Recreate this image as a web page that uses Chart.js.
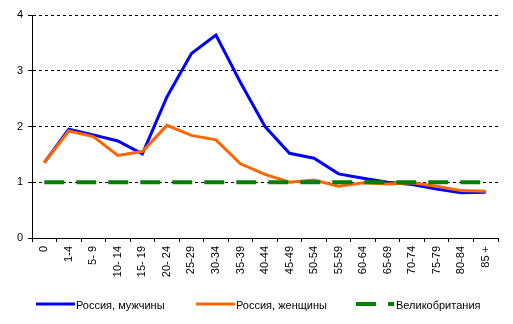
<!DOCTYPE html>
<html><head><meta charset="utf-8">
<script src="https://cdn.jsdelivr.net/npm/chart.js@4"></script>
<style>html,body{margin:0;padding:0;background:#fff}#w{width:513px;height:324px}</style>
</head><body><div id="w"><canvas id="c" width="513" height="324"></canvas></div>
<script>
const categories = ["0","1-4","5- 9","10- 14","15- 19","20- 24","25-29","30-34","35-39","40-44","45-49","50-54","55-59","60-64","65-69","70-74","75-79","80-84","85 +"];
const russiaMen = [1.35,1.95,1.85,1.74,1.51,2.53,3.31,3.64,2.79,2.0,1.52,1.43,1.15,1.07,1.0,0.96,0.88,0.81,0.82];
const russiaWomen = [1.35,1.92,1.82,1.48,1.55,2.02,1.84,1.76,1.33,1.14,1.0,1.04,0.93,0.99,0.97,0.99,0.93,0.85,0.84];
const britain = [1,1,1,1,1,1,1,1,1,1,1,1,1,1,1,1,1,1,1];
const seriesNames = ["Россия, мужчины","Россия, женщины","Великобритания"];
const yTicks = [0,1,2,3,4];

Chart.defaults.font.family = "'Liberation Sans', Arial, sans-serif";
Chart.defaults.font.size = 11;
Chart.defaults.color = '#000';

const legendPlugin = {
  id: 'excelLegend',
  afterDraw(chart) {
    const ctx = chart.ctx;
    const starts = [36, 196, 356];
    const lineY = 304;
    ctx.save();
    ctx.font = "11px 'Liberation Sans', Arial, sans-serif";
    ctx.textBaseline = 'middle';
    ctx.textAlign = 'left';
    chart.data.datasets.forEach((ds, i) => {
      const x0 = starts[i];
      ctx.strokeStyle = ds.borderColor;
      ctx.lineWidth = ds.borderWidth;
      ctx.setLineDash(ds.borderDash || []);
      ctx.lineDashOffset = 0;
      ctx.beginPath();
      ctx.moveTo(x0, lineY);
      ctx.lineTo(x0 + (ds.borderDash ? 38 : 39), lineY);
      ctx.stroke();
      ctx.setLineDash([]);
      ctx.fillStyle = '#000';
      ctx.fillText(ds.label, x0 + 40, lineY + 1.5);
    });
    ctx.restore();
  }
};

new Chart(document.getElementById('c'), {
  type: 'line',
  data: {
    labels: categories,
    datasets: [
      {label: seriesNames[0], data: russiaMen, borderColor: '#0000FF', backgroundColor: '#0000FF', borderWidth: 3, pointRadius: 0, tension: 0, order: 3},
      {label: seriesNames[1], data: russiaWomen, borderColor: '#FF6600', backgroundColor: '#FF6600', borderWidth: 3, pointRadius: 0, tension: 0, order: 2},
      {label: seriesNames[2], data: britain, borderColor: '#008000', backgroundColor: '#008000', borderWidth: 4, borderDash: [20,12], pointRadius: 0, tension: 0, order: 1}
    ]
  },
  plugins: [legendPlugin],
  options: {
    responsive: false,
    animation: false,
    layout: {padding: {left: 15, right: 15, top: 15, bottom: 44}},
    plugins: {
      tooltip: {enabled: false},
      legend: {display: false}
    },
    scales: {
      x: {
        type: 'category',
        offset: true,
        grid: {drawOnChartArea: false, drawTicks: true, tickLength: 4, offset: true, color: '#000', tickColor: '#000'},
        border: {color: '#000', width: 1},
        ticks: {minRotation: 90, maxRotation: 90, autoSkip: false, padding: 4, color: '#000', font: {size: 11}},
        afterFit: s => { s.height = 42; }
      },
      y: {
        min: 0, max: 4,
        afterBuildTicks: s => { s.ticks = yTicks.map(v => ({value: v})); },
        grid: {
          color: c => (c.tick && c.tick.value === 0) ? 'rgba(0,0,0,0)' : '#000',
          tickColor: '#000', tickLength: 4, lineWidth: 1
        },
        border: {color: '#000', width: 1, dash: [3,3]},
        ticks: {padding: 5, color: '#000', font: {size: 11}},
        afterFit: s => { s.width = 17; }
      }
    }
  }
});
</script></body></html>
